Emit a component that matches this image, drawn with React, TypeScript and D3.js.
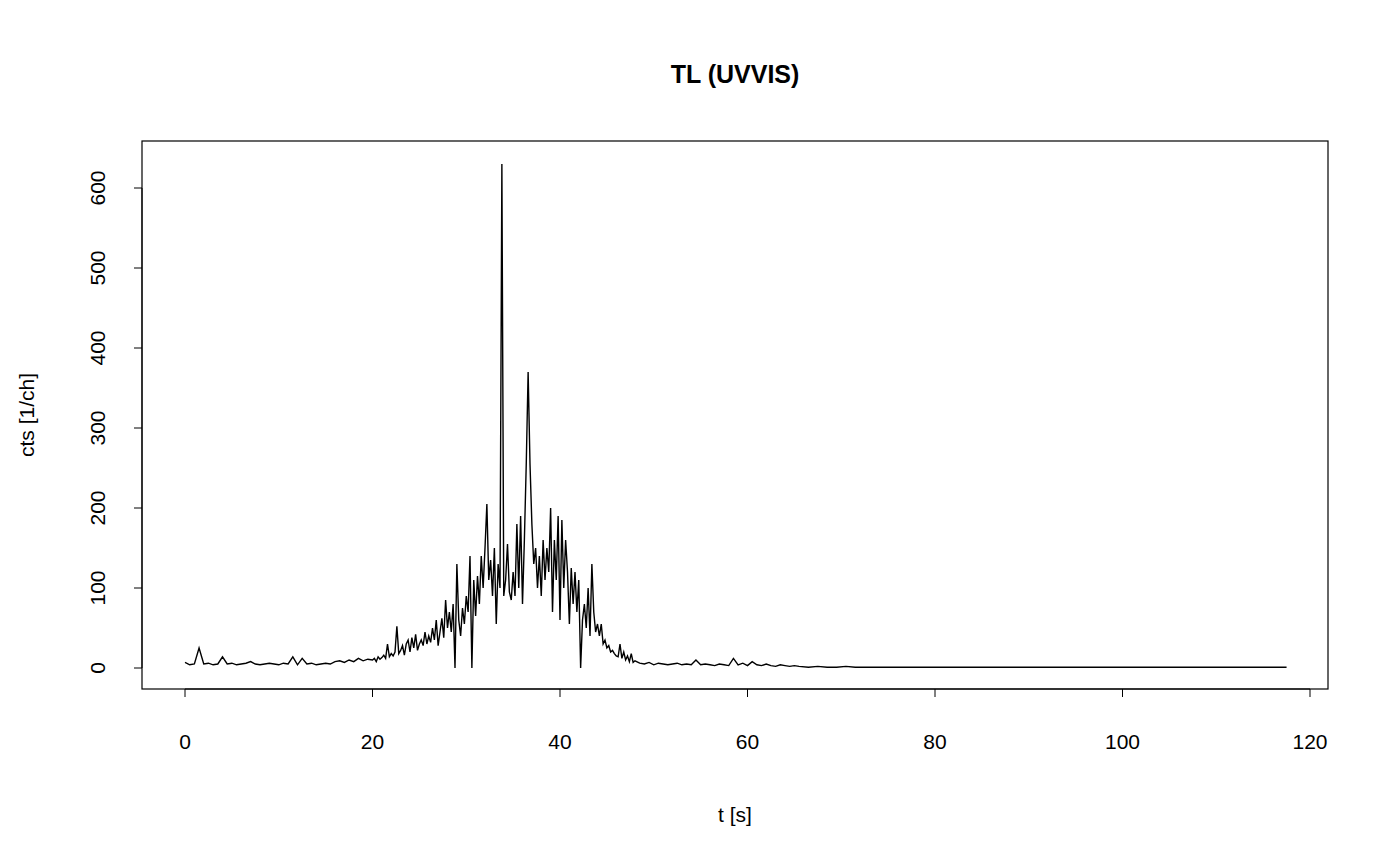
import React from "react";
import * as d3 from "d3";

const seg1Start = 0, seg1Step = 0.5;
const seg1 = [7,4,5,25,5,6,4,5,14,5,6,4,5,6,8,5,4,5,6,5,4,6,5,14,4,12,5,6,4,5,6,5,8,9,7,10,8,12,9,11];
const seg2Start = 20, seg2Step = 0.2;
const seg2 = [10,12,8,14,11,13,16,12,30,14,18,
15,20,52,18,22,28,16,30,35,20,
38,25,42,22,30,35,28,45,30,40,
32,50,35,60,28,45,62,38,85,50,
70,45,80,0,130,60,40,75,55,90,
70,140,0,110,65,115,80,140,100,150,
205,110,135,90,150,55,130,100,630,90,
110,155,95,85,120,90,180,100,190,80,
160,255,370,255,180,130,150,100,140,90,
160,110,150,120,200,70,160,110,190,60,
185,100,160,120,55,125,80,120,70,110,
0,60,80,50,100,40,130,70,45,55,
40,55,30,35,25,28,20,22,18,15,
14,30,12,20,10,15,8,18,7,9];
const seg3Start = 48.5, seg3Step = 0.5;
const seg3 = [6,5,7,4,6,5,4,5,6,4,5,4,10,4,5,4,3,5,4,3,12,4,6,3,8,4,3,5,3,2,4,3,2,3];
const seg4Start = 65.5, seg4Step = 1;
const seg4 = [2,1,2,1,1,2,1,1,1,1,1,1,1,1,1,1,1,1,1,1,1,1,1,1,1,1,1,1,1,1,1,1,1,1,1,1,1,1,1,1,1,1,1,1,1,1,1,1,1,1,1,1,1];
const xTicks = [0,20,40,60,80,100,120];
const yTicks = [0,100,200,300,400,500,600];

const segs: [number, number, number[]][] = [[seg1Start,seg1Step,seg1],[seg2Start,seg2Step,seg2],[seg3Start,seg3Step,seg3],[seg4Start,seg4Step,seg4]];
const data: [number, number][] = [];
segs.forEach(([s, st, v]) => v.forEach((y, i) => data.push([s + st * i, y])));

export default function App() {
  const W = 1400, H = 865, L = 142, R = 1328, T = 141, B = 689;
  const x = d3.scaleLinear().domain([0, 120]).range([185, 1310]);
  const y = d3.scaleLinear().domain([0, 600]).range([668, 188]);
  const line = d3.line<[number, number]>().x(d => x(d[0])).y(d => y(d[1]));
  const f = "Liberation Sans, Arial, sans-serif";
  return (
    <svg width={W} height={H} style={{ position: "absolute", left: 0, top: 0 }} fontFamily={f}>
      <rect width={W} height={H} fill="white" />
      <text x={735} y={83} textAnchor="middle" fontSize={25} fontWeight="bold">TL (UVVIS)</text>
      <rect x={L} y={T} width={R - L} height={B - T} fill="none" stroke="black" strokeWidth={1.2} />
      <path d={line(data) || ""} fill="none" stroke="black" strokeWidth={1.4} />
      <g>
        <line x1={x(0)} x2={x(120)} y1={B} y2={B} stroke="black" />
        {xTicks.map(t => (
          <g key={t}>
            <line x1={x(t)} x2={x(t)} y1={B} y2={B + 8} stroke="black" />
            <text x={x(t)} y={B + 60} textAnchor="middle" fontSize={21}>{t}</text>
          </g>
        ))}
      </g>
      <g>
        <line x1={L} x2={L} y1={y(0)} y2={y(600)} stroke="black" />
        {yTicks.map(t => (
          <g key={t}>
            <line x1={L} x2={L - 8} y1={y(t)} y2={y(t)} stroke="black" />
            <text transform={`translate(${L - 44},${y(t)}) rotate(-90)`} textAnchor="middle" dy="0.35em" fontSize={21}>{t}</text>
          </g>
        ))}
      </g>
      <text x={735} y={822} textAnchor="middle" fontSize={21}>t [s]</text>
      <text transform={`translate(34,415) rotate(-90)`} textAnchor="middle" fontSize={21}>cts [1/ch]</text>
    </svg>
  );
}
